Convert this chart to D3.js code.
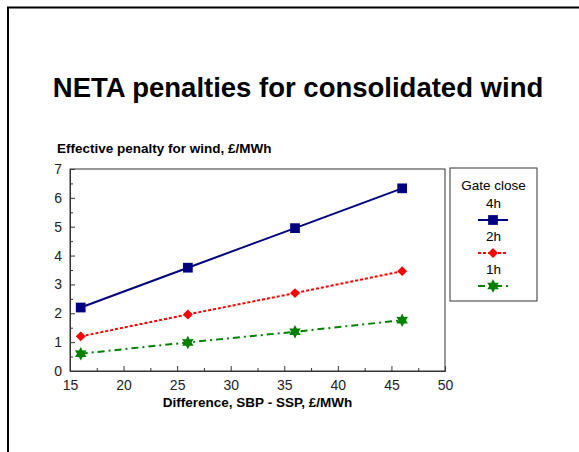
<!DOCTYPE html>
<html>
<head>
<meta charset="utf-8">
<script src="https://cdn.jsdelivr.net/npm/d3@7"></script>
<style>
  body { margin: 0; background: #fff; }
  svg { font-family: "Liberation Sans", Arial, sans-serif; }
</style>
</head>
<body>
<div id="chart"></div>
<script>
// data
const diffs = [16, 26, 36, 46]
const seriesNames = ["4h", "2h", "1h"]
const penalty4h = [2.2, 3.58, 4.95, 6.33]
const penalty2h = [1.2, 1.96, 2.7, 3.46]
const penalty1h = [0.6, 0.99, 1.36, 1.76]
const xTicks = [15, 20, 25, 30, 35, 40, 45, 50]
const yTicks = [0, 1, 2, 3, 4, 5, 6, 7]

const W = 579, H = 452
const margin = { top: 169, right: 134, bottom: 81, left: 70 }
const width = W - margin.left - margin.right
const height = H - margin.top - margin.bottom

const svg = d3.select("#chart").append("svg")
    .attr("width", W)
    .attr("height", H)

// slide frame (left + top edge only)
svg.append("path")
    .attr("d", "M8,452 V7.5 H579")
    .attr("fill", "none")
    .attr("stroke", "#000")
    .attr("stroke-width", 2)

svg.append("text")
    .attr("x", 298)
    .attr("y", 97)
    .attr("text-anchor", "middle")
    .style("font-size", "27.5px")
    .style("font-weight", "bold")
    .text("NETA penalties for consolidated wind")

svg.append("text")
    .attr("x", 57)
    .attr("y", 153)
    .style("font-size", "13.5px")
    .style("font-weight", "bold")
    .text("Effective penalty for wind, £/MWh")

const g = svg.append("g")
    .attr("transform", "translate(" + margin.left + "," + margin.top + ")")

const x = d3.scaleLinear().domain([15, 50]).range([0, width])
const y = d3.scaleLinear().domain([0, 7]).range([height, 0])

// frame of the plot
g.append("rect")
    .attr("width", width)
    .attr("height", height)
    .attr("fill", "none")
    .attr("stroke", "#333")
    .attr("stroke-width", 1)

// minor ticks (inside)
const xMinor = d3.range(17.5, 50, 5)
const yMinor = d3.range(0.5, 7, 1)

g.append("g")
    .attr("transform", "translate(0," + height + ")")
    .call(d3.axisBottom(x).tickValues(xTicks).tickSize(-5).tickPadding(9).tickFormat(d3.format("d")))
g.append("g")
    .attr("transform", "translate(0," + height + ")")
    .call(d3.axisBottom(x).tickValues(xMinor).tickSize(-3).tickFormat(""))
    .select(".domain").remove()

g.append("g")
    .call(d3.axisLeft(y).tickValues(yTicks).tickSize(-5).tickPadding(8).tickFormat(d3.format("d")))
g.append("g")
    .call(d3.axisLeft(y).tickValues(yMinor).tickSize(-3).tickFormat(""))
    .select(".domain").remove()

g.selectAll(".domain").attr("stroke", "#333")
g.selectAll(".tick line").attr("stroke", "#333")
g.selectAll(".tick text")
    .attr("fill", "#222")
    .style("font-size", "14px")
    .style("font-family", "Liberation Sans, Arial, sans-serif")

g.append("text")
    .attr("x", width / 2)
    .attr("y", height + 36)
    .attr("text-anchor", "middle")
    .style("font-size", "13.5px")
    .style("font-weight", "bold")
    .text("Difference, SBP - SSP, £/MWh")

// six-pointed star marker
const star6 = {
    draw(context, size) {
        const r = Math.sqrt(size) * 0.75
        const ri = r * 0.55
        for (let i = 0; i < 12; i++) {
            const a = Math.PI / 6 * i - Math.PI / 2
            const rr = i % 2 ? ri : r
            if (i === 0) context.moveTo(rr * Math.cos(a), rr * Math.sin(a))
            else context.lineTo(rr * Math.cos(a), rr * Math.sin(a))
        }
        context.closePath()
    }
}

// square turned 45 degrees
const diamond = {
    draw(context, size) {
        const r = Math.sqrt(size) * 0.7
        context.moveTo(0, -r)
        context.lineTo(r, 0)
        context.lineTo(0, r)
        context.lineTo(-r, 0)
        context.closePath()
    }
}

const series = [
    { name: seriesNames[0], values: penalty4h, color: "#000080", dash: null, symbol: d3.symbolSquare, size: 95 },
    { name: seriesNames[1], values: penalty2h, color: "#ff0000", dash: "3,2", symbol: diamond, size: 50 },
    { name: seriesNames[2], values: penalty1h, color: "#008000", dash: "7,4,2,4", symbol: star6, size: 80 }
]

const line = d3.line()
    .x((d, i) => x(diffs[i]))
    .y(d => y(d))

series.forEach(s => {
    g.append("path")
        .datum(s.values)
        .attr("d", line)
        .attr("fill", "none")
        .attr("stroke", s.color)
        .attr("stroke-width", 2)
        .attr("stroke-dasharray", s.dash)

    g.selectAll(null)
        .data(s.values)
        .enter()
        .append("path")
        .attr("transform", (d, i) => "translate(" + x(diffs[i]) + "," + y(d) + ")")
        .attr("d", d3.symbol().type(s.symbol).size(s.size))
        .attr("fill", s.color)
})

// legend
const legend = svg.append("g").attr("transform", "translate(450,168)")
legend.append("rect")
    .attr("width", 87)
    .attr("height", 133)
    .attr("fill", "#fff")
    .attr("stroke", "#333")

legend.append("text")
    .attr("x", 43.5)
    .attr("y", 22)
    .attr("text-anchor", "middle")
    .style("font-size", "13.5px")
    .text("Gate close")

series.forEach((s, i) => {
    const top = 40 + i * 33
    legend.append("text")
        .attr("x", 43.5)
        .attr("y", top)
        .attr("text-anchor", "middle")
        .style("font-size", "13.5px")
        .text(s.name)
    legend.append("line")
        .attr("x1", 28)
        .attr("x2", 58)
        .attr("y1", top + 12)
        .attr("y2", top + 12)
        .attr("stroke", s.color)
        .attr("stroke-width", 2)
        .attr("stroke-dasharray", s.dash)
    legend.append("path")
        .attr("transform", "translate(43," + (top + 12) + ")")
        .attr("d", d3.symbol().type(s.symbol).size(s.size))
        .attr("fill", s.color)
})
</script>
</body>
</html>
